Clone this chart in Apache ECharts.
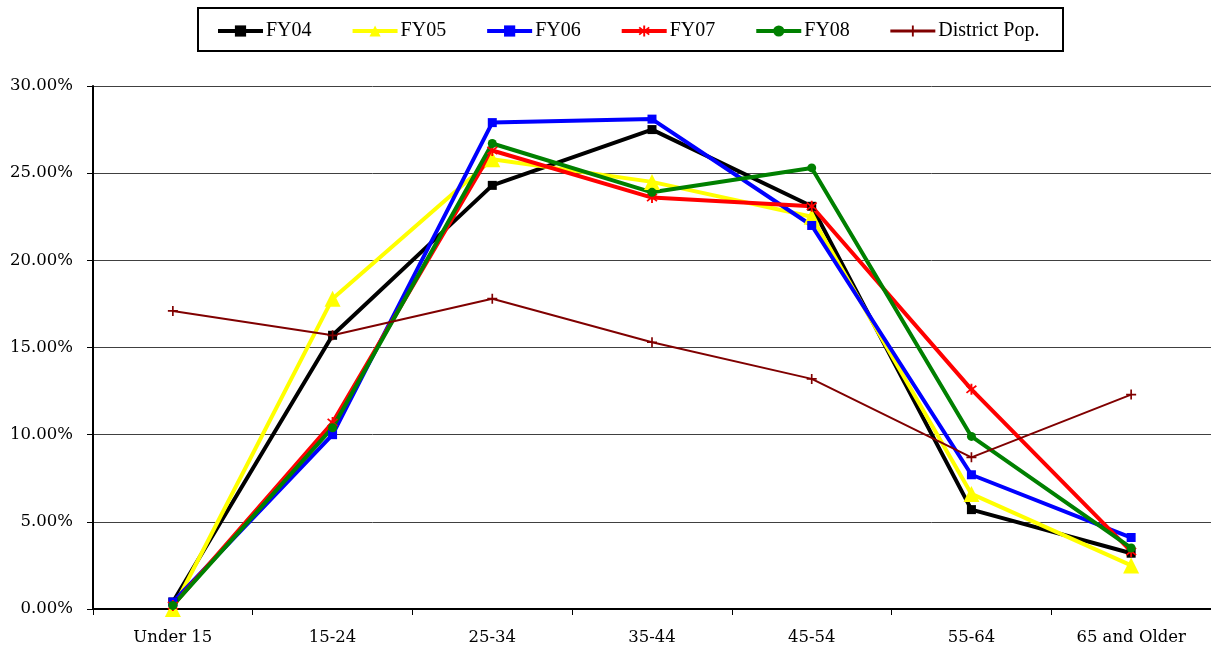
<!DOCTYPE html>
<html>
<head>
<meta charset="utf-8">
<script src="https://cdn.jsdelivr.net/npm/echarts@6/dist/echarts.min.js"></script>
<style>
html,body{margin:0;padding:0;background:#fff;}
#c{width:1211px;height:647px;}
</style>
</head>
<body>
<div id="c"></div>
<script>
var categories = ['Under 15','15-24','25-34','35-44','45-54','55-64','65 and Older'];
var yTicks = [0, 5, 10, 15, 20, 25, 30];
var fy04 = [0.4, 15.7, 24.3, 27.5, 23.1, 5.7, 3.2];
var fy05 = [0.0, 17.8, 25.8, 24.5, 22.5, 6.6, 2.5];
var fy06 = [0.4, 10.0, 27.9, 28.1, 22.0, 7.7, 4.1];
var fy07 = [0.2, 10.7, 26.3, 23.6, 23.1, 12.6, 3.3];
var fy08 = [0.2, 10.4, 26.7, 23.9, 25.3, 9.9, 3.5];
var district = [17.1, 15.7, 17.8, 15.3, 13.2, 8.7, 12.3];

var SERIF = '"Liberation Serif","DejaVu Serif",serif';
var WIDE = '"DejaVu Serif","Liberation Serif",serif';
var chart = echarts.init(document.getElementById('c'), null, {renderer:'canvas'});

function mk(name, data, color, symbol, size, width){
  return {
    name: name, type: 'line', data: data, symbol: symbol, symbolSize: size,
    showAllSymbol: true, animation: false,
    lineStyle: {color: color, width: width},
    itemStyle: {color: color, borderColor: color, borderWidth: 0},
    emphasis: {disabled: true}
  };
}
var plusPath = 'path://M-1,-6L1,-6L1,-1L6,-1L6,1L1,1L1,6L-1,6L-1,1L-6,1L-6,-1L-1,-1Z';
var starPath = 'path://M-1,-6L1,-6L1,-1.6L4.6,-4.6L5.8,-3.2L1.9,0L5.8,3.2L4.6,4.6L1,1.6L1,6L-1,6L-1,1.6L-4.6,4.6L-5.8,3.2L-1.9,0L-5.8,-3.2L-4.6,-4.6L-1,-1.6Z';

var legendNames = ['FY04','FY05','FY06','FY07','FY08','District Pop.'];

var option = {
  backgroundColor: '#fff',
  animation: false,
  textStyle: {fontFamily: SERIF},
  graphic: [{
    type: 'rect', left: 197, top: 7, z: -1,
    shape: {width: 865, height: 43},
    style: {fill: '#fff', stroke: '#000', lineWidth: 2}
  }],
  legend: {
    left: 211, top: 16, itemWidth: 45, itemHeight: 14, itemGap: 39,
    lineStyle: {width: 4},
    textStyle: {fontFamily: SERIF, fontSize: 20, color: '#000', padding: [0,0,0,-2]},
    data: legendNames.map(function(n, i){
      return i === 5 ? {name: n, lineStyle: {width: 3}} : {name: n};
    })
  },
  grid: {left: 93, right: 0, top: 86, bottom: 38, containLabel: false},
  xAxis: {
    type: 'category', data: categories, boundaryGap: true,
    axisLine: {lineStyle: {color: '#000', width: 2}},
    axisTick: {show: true, length: 6, lineStyle: {color: '#000', width: 1}},
    axisLabel: {fontFamily: WIDE, fontSize: 16.5, color: '#000', margin: 20, interval: 0}
  },
  yAxis: {
    type: 'value', min: 0, max: 30, interval: 5,
    axisLine: {show: true, lineStyle: {color: '#000', width: 2}},
    axisTick: {show: true, length: 6, lineStyle: {color: '#000'}},
    axisLabel: {fontFamily: WIDE, fontSize: 16.5, color: '#000', margin: 20,
      formatter: function(v){ return yTicks.indexOf(v) >= 0 ? v.toFixed(2) + '%' : ''; }},
    splitLine: {show: true, lineStyle: {color: '#404040', width: 1}}
  },
  series: [
    mk('FY04', fy04, '#000000', 'rect', 9, 4),
    mk('FY05', fy05, '#FFFF00', 'triangle', 16, 4),
    mk('FY06', fy06, '#0000FF', 'rect', 9, 4),
    mk('FY07', fy07, '#FF0000', starPath, 11, 4),
    mk('FY08', fy08, '#008000', 'circle', 9, 4),
    mk('District Pop.', district, '#800000', plusPath, 10, 2)
  ]
};
chart.setOption(option);
</script>
</body>
</html>
